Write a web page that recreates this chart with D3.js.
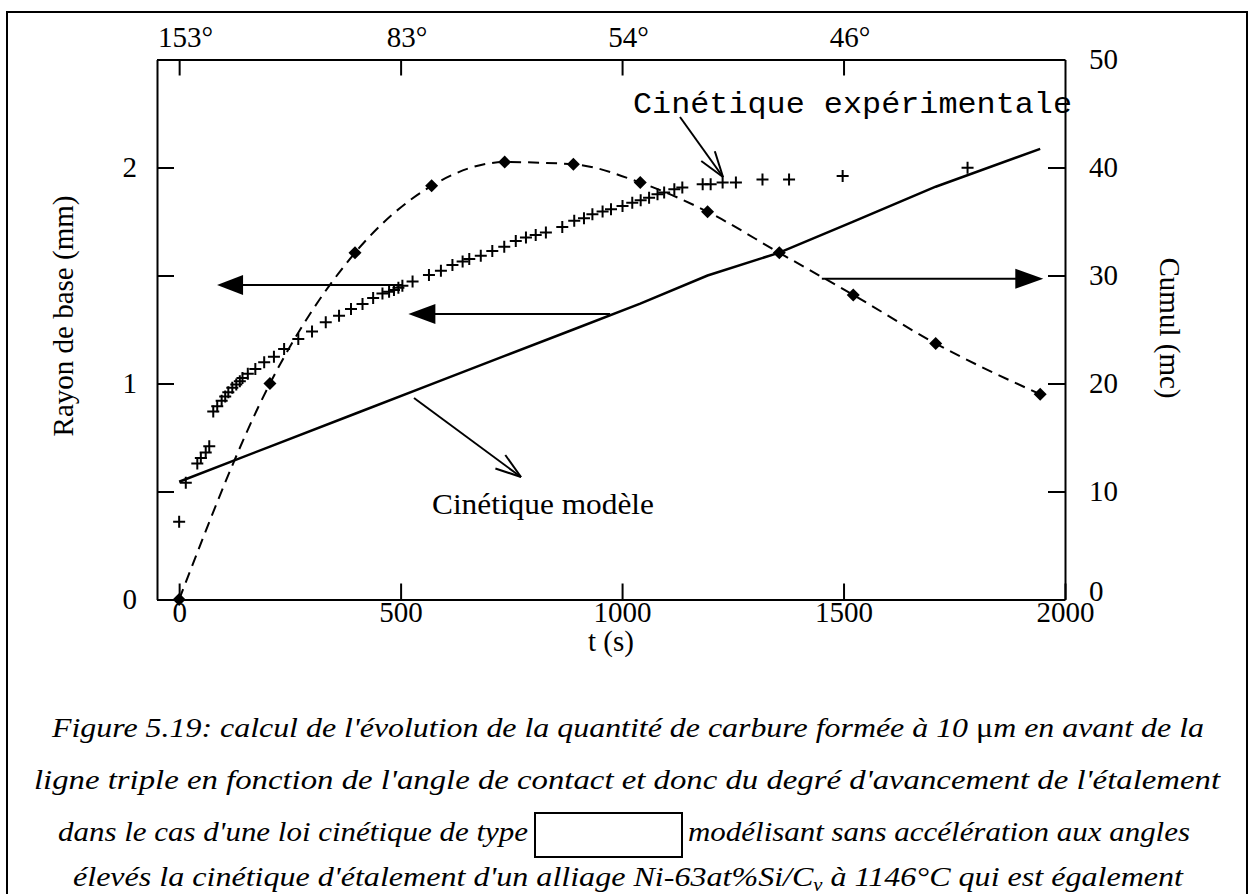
<!DOCTYPE html>
<html><head><meta charset="utf-8">
<script src="https://cdn.jsdelivr.net/npm/d3@7"></script>
<style>
body{margin:0;background:#fff}
svg{display:block;background:#fff}
text{fill:#000}
.sf{font-family:'Liberation Serif','Times New Roman',Tinos,'Nimbus Roman',Times,serif}
.mono{font-family:'Liberation Mono','Courier New',Cousine,'Nimbus Mono PS',Courier,monospace}
</style>
</head><body>
<svg id="c" width="1254" height="894"></svg>
<script>
// ---------- data ----------
const expT = [0,15,41,49,60,68,77,86,96,104,111,120,129,137,143,155,172,192,214,237,269,300,331,361,388,414,438,459,474,485,495,504,527,564,591,617,640,655,681,707,734,760,783,805,828,865,892,914,933,956,975,1001,1023,1042,1061,1080,1095,1118,1136,1182,1200,1227,1257,1317,1377,1498,1780];
const expR = [0.36,0.54,0.63,0.655,0.68,0.71,0.87,0.895,0.92,0.94,0.96,0.98,0.995,1.01,1.025,1.045,1.067,1.098,1.124,1.16,1.206,1.241,1.283,1.314,1.345,1.368,1.396,1.417,1.425,1.433,1.443,1.452,1.472,1.502,1.522,1.549,1.565,1.576,1.591,1.614,1.633,1.66,1.676,1.688,1.699,1.725,1.753,1.765,1.784,1.796,1.807,1.822,1.837,1.848,1.86,1.876,1.884,1.899,1.907,1.922,1.922,1.93,1.93,1.945,1.945,1.961,1.999];
const cumT = [0,205,397,570,735,890,1041,1193,1355,1522,1708,1944];
const cumV = [0,20.0,32.1,38.3,40.5,40.3,38.6,35.9,32.1,28.2,23.7,19.0];
const modelT = [0,205,397,570,735,890,1041,1193,1355,1522,1708,1944];
const modelR = [0.545,0.708,0.86,0.997,1.128,1.25,1.37,1.50,1.606,1.749,1.911,2.086];
const xTicks = [0,500,1000,1500,2000];
const leftTicks = [0,0.5,1,1.5,2,2.5];
const leftLabels = {0:"0",1:"1",2:"2"};
const rightTicks = [0,10,20,30,40,50];
const topTickT = [0,500,1000,1500];
const topLabels = ["153°","83°","54°","46°"];
const captionLines = [
  "Figure 5.19: calcul de l'évolution de la quantité de carbure formée à 10 ",
  "ligne triple en fonction de l'angle de contact et donc du degré d'avancement de l'étalement",
  "dans le cas d'une loi cinétique de type",
  "modélisant sans accélération aux angles",
  "élevés la cinétique d'étalement d'un alliage Ni-63at%Si/C"
];

// ---------- layout ----------
const svg = d3.select('#c');
const L = 157, R = 1065, T = 59.5, B = 599.5;
const fs = 29;

const x = d3.scaleLinear().domain([-50,2000]).range([L,R]);
const yL = d3.scaleLinear().domain([0,2.5]).range([B,T]);
const yR = d3.scaleLinear().domain([0,50]).range([B,T]);

// outer frame
svg.append('rect').attr('x',7).attr('y',12).attr('width',1240).attr('height',900)
  .attr('fill','none').attr('stroke','#000').attr('stroke-width',2);

function styleAxis(g){
  g.attr('font-family',null);
  g.select('.domain').attr('stroke','#000').attr('stroke-width',2);
  g.selectAll('.tick line').attr('stroke','#000').attr('stroke-width',2);
  g.selectAll('.tick text').attr('class','sf').attr('font-size',fs).attr('fill','#000');
}

// bottom axis
const gB = svg.append('g').attr('transform',`translate(0,${B})`)
  .call(d3.axisBottom(x).tickValues(xTicks).tickSize(-16).tickSizeOuter(0).tickFormat(d3.format('d')));
styleAxis(gB);
gB.selectAll('.tick text').attr('y',2).attr('dy','0.71em');

// top axis
const gT = svg.append('g').attr('transform',`translate(0,${T})`)
  .call(d3.axisTop(x).tickValues(topTickT).tickSize(-16).tickSizeOuter(0).tickFormat((d,i)=>topLabels[i]));
styleAxis(gT);
gT.selectAll('.tick text').attr('y',-13).attr('dy','0em').attr('dx',6);

// left axis
const gL = svg.append('g').attr('transform',`translate(${L},0)`)
  .call(d3.axisLeft(yL).tickValues(leftTicks).tickSize(-17).tickSizeOuter(0).tickFormat(d=>leftLabels[d]||''));
styleAxis(gL);
gL.selectAll('.tick text').attr('x',-20);

// right axis
const gR = svg.append('g').attr('transform',`translate(${R},0)`)
  .call(d3.axisRight(yR).tickValues(rightTicks).tickSize(-17).tickSizeOuter(0).tickFormat(d3.format('d')));
styleAxis(gR);
gR.selectAll('.tick text').attr('x',24);
gR.selectAll('.tick').filter(d=>d===0).select('text').attr('dy','0.05em');

// axis titles
svg.append('text').attr('class','sf').attr('transform','translate(73,316) rotate(-90)').attr('text-anchor','middle')
  .attr('font-size',fs).text('Rayon de base (mm)');
svg.append('text').attr('class','sf').attr('transform','translate(1160,328) rotate(90)').attr('text-anchor','middle')
  .attr('font-size',fs).text('Cumul (mc)');
svg.append('text').attr('class','sf').attr('x',611).attr('y',651).attr('text-anchor','middle')
  .attr('font-size',fs).text('t (s)');

// ---------- series ----------
const cumData = cumT.map((t,i)=>({t, v:cumV[i]}));
const modelData = modelT.map((t,i)=>({t, r:modelR[i]}));
const expData = expT.map((t,i)=>({t, r:expR[i]}));

// annotation arrows (filled heads)
function filledArrow(x1,y1,x2,y2,len,hw){
  const dir = Math.sign(x2-x1);
  svg.append('line').attr('x1',x1).attr('y1',y1).attr('x2',x2-dir*len*0.6).attr('y2',y2)
    .attr('stroke','#000').attr('stroke-width',2);
  svg.append('path').attr('d',`M${x2},${y2}L${x2-dir*len},${y2-hw}L${x2-dir*len},${y2+hw}Z`).attr('fill','#000');
}
filledArrow(x(505), yL(1.456), x(85.6), yL(1.456), 26, 10);
filledArrow(x(973), yL(1.322), x(517.5), yL(1.322), 27, 10);
filledArrow(x(1451), yR(29.7), x(1951), yR(29.7), 28, 10);

function openArrow(x1,y1,x2,y2,len,ang){
  svg.append('line').attr('x1',x1).attr('y1',y1).attr('x2',x2).attr('y2',y2)
    .attr('stroke','#000').attr('stroke-width',2);
  const a = Math.atan2(y1-y2,x1-x2);
  [ang,-ang].forEach(d=>{
    const b = a + d*Math.PI/180;
    svg.append('line').attr('x1',x2).attr('y1',y2)
      .attr('x2',x2+len*Math.cos(b)).attr('y2',y2+len*Math.sin(b))
      .attr('stroke','#000').attr('stroke-width',2);
  });
}
openArrow(680,117,723,177,27,18);
openArrow(414,398,521,477,27,18);

// model line
svg.append('path').datum(modelData)
  .attr('d',d3.line().x(d=>x(d.t)).y(d=>yL(d.r)))
  .attr('fill','none').attr('stroke','#000').attr('stroke-width',2.5);

// cumul dashed smooth line
svg.append('path').datum(cumData)
  .attr('d',d3.line().curve(d3.curveMonotoneX).x(d=>x(d.t)).y(d=>yR(d.v)))
  .attr('fill','none').attr('stroke','#000').attr('stroke-width',2).attr('stroke-dasharray','11,7');

// diamonds
svg.append('g').selectAll('path').data(cumData).join('path')
  .attr('transform',d=>`translate(${x(d.t)},${yR(d.v)})`)
  .attr('d','M0,-6.5L6.5,0L0,6.5L-6.5,0Z').attr('fill','#000');

// plus markers
svg.append('g').selectAll('path').data(expData).join('path')
  .attr('transform',d=>`translate(${x(d.t)},${yL(d.r)})`)
  .attr('d','M-6,0H6M0,-6V6').attr('stroke','#000').attr('stroke-width',2).attr('fill','none');

// annotation labels
svg.append('text').attr('class','mono').attr('x',633).attr('y',113)
  .attr('font-size',29).attr('textLength',439).attr('lengthAdjust','spacingAndGlyphs').text('Cinétique expérimentale');
svg.append('text').attr('class','sf').attr('x',432).attr('y',514).attr('font-size',fs)
  .attr('textLength',222).attr('lengthAdjust','spacingAndGlyphs').text('Cinétique modèle');

// ---------- caption ----------
const cfs = 28;
const c1 = svg.append('text').attr('class','sf').attr('x',52).attr('y',737).attr('font-size',cfs)
  .attr('font-style','italic').attr('textLength',1152).attr('lengthAdjust','spacingAndGlyphs');
c1.append('tspan').text(captionLines[0]);
c1.append('tspan').attr('font-style','normal').text('μ');
c1.append('tspan').text('m en avant de la');
svg.append('text').attr('class','sf').attr('x',34).attr('y',789).attr('font-size',cfs)
  .attr('font-style','italic').attr('textLength',1186).attr('lengthAdjust','spacingAndGlyphs').text(captionLines[1]);
svg.append('text').attr('class','sf').attr('x',58).attr('y',841).attr('font-size',cfs)
  .attr('font-style','italic').attr('textLength',470).attr('lengthAdjust','spacingAndGlyphs').text(captionLines[2]);
svg.append('rect').attr('x',535).attr('y',813).attr('width',147).attr('height',44)
  .attr('fill','none').attr('stroke','#000').attr('stroke-width',2);
svg.append('text').attr('class','sf').attr('x',688).attr('y',841).attr('font-size',cfs)
  .attr('font-style','italic').attr('textLength',502).attr('lengthAdjust','spacingAndGlyphs').text(captionLines[3]);
const c4 = svg.append('text').attr('class','sf').attr('x',73).attr('y',886).attr('font-size',cfs)
  .attr('font-style','italic').attr('textLength',1110).attr('lengthAdjust','spacingAndGlyphs');
c4.append('tspan').text(captionLines[4]);
c4.append('tspan').attr('font-size',18).attr('dy',5).text('v');
c4.append('tspan').attr('dy',-5).text(' à 1146°C qui est également');
</script>
</body></html>
